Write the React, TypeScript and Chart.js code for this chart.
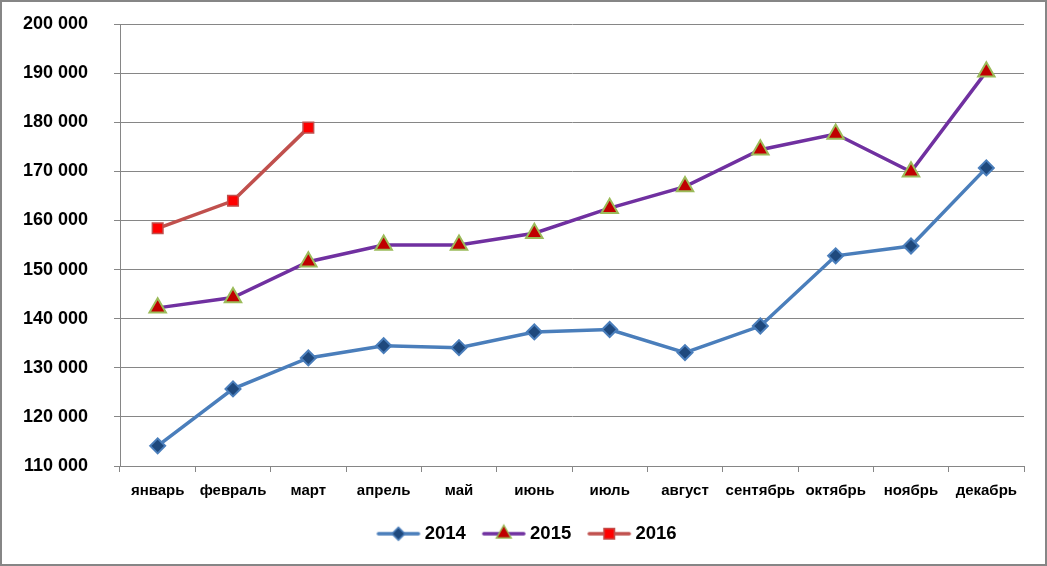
import React, { useEffect, useRef } from 'react';
import { Chart, registerables } from 'chart.js';

Chart.register(...registerables);

const months = ['январь', 'февраль', 'март', 'апрель', 'май', 'июнь', 'июль', 'август', 'сентябрь', 'октябрь', 'ноябрь', 'декабрь'];
const seriesNames = ['2014', '2015', '2016'];
const values2014 = [114100, 125700, 132000, 134500, 134100, 137300, 137800, 133100, 138500, 152800, 154800, 170700];
const values2015 = [142200, 144300, 151600, 155000, 155000, 157400, 162500, 166900, 174400, 177600, 169900, 190300];
const values2016 = [158400, 164000, 178900];
const yMin = 110000;
const yMax = 200000;
const yStep = 10000;

const CW = 1043;
const CH = 562;
const PAD = { left: 12, right: 1, top: 22, bottom: 11 };
const PLOT_LEFT = 118;
const PLOT_RIGHT = 1022;
const PLOT_BOTTOM = 464;

function formatThousands(v: number): string {
  return String(Math.round(v)).replace(/\B(?=(\d{3})+(?!\d))/g, ' ');
}

function makeIcon(lineColor: string, style: string, fill: string, stroke: string, r: number, bw: number) {
  const c = document.createElement('canvas');
  c.width = 46;
  c.height = 22;
  const ctx = c.getContext('2d')!;
  const cx = 23;
  const cy = 11;
  ctx.strokeStyle = lineColor;
  ctx.lineWidth = 3.5;
  ctx.lineCap = 'round';
  ctx.beginPath();
  ctx.moveTo(3, cy);
  ctx.lineTo(43, cy);
  ctx.stroke();
  ctx.fillStyle = fill;
  ctx.strokeStyle = stroke;
  ctx.lineWidth = bw;
  ctx.lineCap = 'butt';
  ctx.beginPath();
  if (style === 'rectRot') {
    ctx.moveTo(cx, cy - r);
    ctx.lineTo(cx + r, cy);
    ctx.lineTo(cx, cy + r);
    ctx.lineTo(cx - r, cy);
    ctx.closePath();
  } else if (style === 'triangle') {
    ctx.moveTo(cx, cy - r);
    ctx.lineTo(cx + r * 0.866, cy + r * 0.5);
    ctx.lineTo(cx - r * 0.866, cy + r * 0.5);
    ctx.closePath();
  } else {
    const s = r * 0.707;
    ctx.rect(cx - s, cy - s, 2 * s, 2 * s);
  }
  ctx.fill();
  ctx.stroke();
  return c;
}

export default function App() {
  const ref = useRef<HTMLCanvasElement | null>(null);

  useEffect(() => {
    if (!ref.current) return;
    Chart.defaults.font.family = '"Liberation Sans", Arial, sans-serif';
    const icons = [
      makeIcon('#4a7ebb', 'rectRot', '#1f497d', '#4a7ebb', 6.5, 1.5),
      makeIcon('#7030a0', 'triangle', '#c00000', '#9bbb59', 8.5, 1.5),
      makeIcon('#c0504d', 'rect', '#ff0000', '#c0504d', 7.5, 1.5),
    ];
    const chart = new Chart(ref.current, {
      type: 'line',
      data: {
        labels: months,
        datasets: [
          {
            label: seriesNames[0],
            data: values2014,
            borderColor: '#4a7ebb',
            backgroundColor: '#1f497d',
            borderWidth: 3.5,
            pointStyle: 'rectRot',
            pointRadius: 7.5,
            pointBackgroundColor: '#1f497d',
            pointBorderColor: '#4a7ebb',
            pointBorderWidth: 2,
            tension: 0,
          },
          {
            label: seriesNames[1],
            data: values2015,
            borderColor: '#7030a0',
            backgroundColor: '#c00000',
            borderWidth: 3.5,
            pointStyle: 'triangle',
            pointRadius: 9.5,
            pointBackgroundColor: '#c00000',
            pointBorderColor: '#9bbb59',
            pointBorderWidth: 2,
            tension: 0,
          },
          {
            label: seriesNames[2],
            data: values2016,
            borderColor: '#c0504d',
            backgroundColor: '#ff0000',
            borderWidth: 3.5,
            pointStyle: 'rect',
            pointRadius: 7.5,
            pointBackgroundColor: '#ff0000',
            pointBorderColor: '#c0504d',
            pointBorderWidth: 1.5,
            tension: 0,
          },
        ],
      },
      options: {
        responsive: false,
        maintainAspectRatio: false,
        animation: false,
        devicePixelRatio: 1,
        layout: { padding: PAD },
        plugins: {
          tooltip: { enabled: false },
          legend: {
            display: true,
            position: 'bottom',
            labels: {
              usePointStyle: true,
              pointStyleWidth: 34,
              padding: 21,
              color: '#000',
              font: { size: 18.5, weight: 'bold' },
              generateLabels: (ch: any) => {
                const items = (Chart.defaults as any).plugins.legend.labels.generateLabels(ch);
                items.forEach((it: any, i: number) => {
                  it.pointStyle = icons[i];
                });
                return items;
              },
            },
          },
        },
        scales: {
          x: {
            type: 'category',
            offset: true,
            grid: {
              display: true,
              drawOnChartArea: false,
              drawTicks: true,
              tickLength: 6,
              color: '#868686',
              offset: true,
            },
            border: { display: true, color: '#868686' },
            ticks: {
              color: '#000',
              font: { size: 15, weight: 'bold' },
              padding: 10,
              maxRotation: 0,
              autoSkip: false,
            },
            afterFit: (s: any) => {
              const lh = s.chart.legend ? s.chart.legend.height || 0 : 0;
              s.height = CH - PAD.bottom - lh - PLOT_BOTTOM;
              s.paddingLeft = 0;
              s.paddingRight = 0;
            },
          },
          y: {
            min: yMin,
            max: yMax,
            grid: { color: '#868686', tickLength: 6, lineWidth: 1 },
            border: { display: true, color: '#868686' },
            ticks: {
              stepSize: yStep,
              color: '#000',
              font: { size: 18, weight: 'bold' },
              padding: 26,
              callback: (v: any) => formatThousands(Number(v)),
            },
            afterFit: (s: any) => {
              s.width = PLOT_LEFT - PAD.left;
              s.paddingTop = 0;
              s.paddingBottom = 0;
            },
          },
          yRight: {
            type: 'linear',
            position: 'right',
            display: true,
            min: yMin,
            max: yMax,
            grid: { display: false, drawTicks: false },
            border: { display: false },
            ticks: { display: false },
            afterFit: (s: any) => {
              s.width = CW - PAD.right - PLOT_RIGHT;
              s.paddingTop = 0;
              s.paddingBottom = 0;
            },
          },
        },
      },
    } as any);
    return () => chart.destroy();
  }, []);

  return (
    <div
      style={{
        position: 'absolute',
        left: 0,
        top: 0,
        width: 1047,
        height: 566,
        border: '2px solid #868686',
        boxSizing: 'border-box',
        background: '#fff',
      }}
    >
      <canvas ref={ref} width={CW} height={CH} style={{ display: 'block', width: CW, height: CH }} />
    </div>
  );
}
